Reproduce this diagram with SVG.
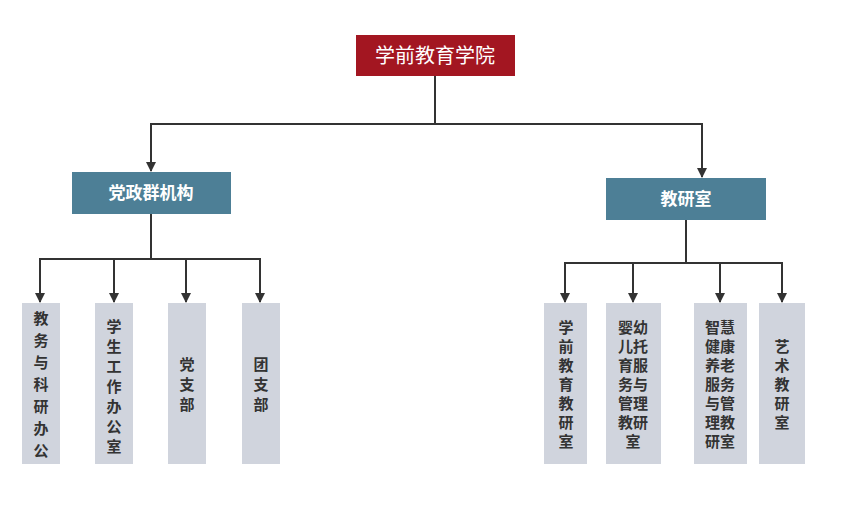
<svg xmlns="http://www.w3.org/2000/svg" width="857" height="512" viewBox="0 0 857 512">
<defs>
<style>
.lf{fill:#D0D4DD}
.lt{font-family:"Noto Sans CJK SC",sans-serif;font-size:15px;font-weight:bold;fill:#333;text-anchor:middle}
.wt{font-family:"Noto Sans CJK SC",sans-serif;fill:#fff;text-anchor:middle}
.c{fill:none;stroke:#333;stroke-width:2}
</style>
<marker id="a" viewBox="0 0 10 10" refX="9" refY="5" markerWidth="5" markerHeight="5" orient="auto"><path d="M0,0L10,5L0,10z" fill="#333"/></marker>
</defs>
<rect width="857" height="512" fill="#fff"/>
<g id="connectors">
<path class="c" d="M435,76V124H151V171" marker-end="url(#a)"/>
<path class="c" d="M435,124H702V177" marker-end="url(#a)"/>
<path class="c" d="M151,214V259H40V302" marker-end="url(#a)"/>
<path class="c" d="M114,259V302" marker-end="url(#a)"/>
<path class="c" d="M186,259V302" marker-end="url(#a)"/>
<path class="c" d="M151,259H260V302" marker-end="url(#a)"/>
<path class="c" d="M686,220V263H565V302" marker-end="url(#a)"/>
<path class="c" d="M633,263V302" marker-end="url(#a)"/>
<path class="c" d="M720,263V302" marker-end="url(#a)"/>
<path class="c" d="M686,263H782V302" marker-end="url(#a)"/>
</g>
<g id="root"><rect x="356" y="35" width="159" height="41" fill="#A31621"/><text class="wt" x="435" y="63" font-size="20">学前教育学院</text></g>
<g id="dangzheng"><rect x="72" y="172" width="159" height="42" fill="#4D7F96"/><text class="wt" x="151" y="199" font-size="17" font-weight="bold">党政群机构</text></g>
<g id="jiaoyan"><rect x="606" y="178" width="160" height="42" fill="#4D7F96"/><text class="wt" x="686" y="205" font-size="17" font-weight="bold">教研室</text></g>
<g id="n1"><rect class="lf" x="22" y="303" width="38" height="161"/><text class="lt" x="41"><tspan x="41" y="324">教</tspan><tspan x="41" y="346">务</tspan><tspan x="41" y="368">与</tspan><tspan x="41" y="390">科</tspan><tspan x="41" y="412">研</tspan><tspan x="41" y="434">办</tspan><tspan x="41" y="456">公</tspan></text><text class="lt" x="41" y="456" display="none"></text></g>
<g id="n2"><rect class="lf" x="95" y="303" width="38" height="161"/><text class="lt"><tspan x="114" y="332">学</tspan><tspan x="114" y="352">生</tspan><tspan x="114" y="372">工</tspan><tspan x="114" y="392">作</tspan><tspan x="114" y="412">办</tspan><tspan x="114" y="432">公</tspan><tspan x="114" y="452">室</tspan></text></g>
<g id="n3"><rect class="lf" x="168" y="303" width="38" height="161"/><text class="lt"><tspan x="187" y="370">党</tspan><tspan x="187" y="390">支</tspan><tspan x="187" y="410">部</tspan></text></g>
<g id="n4"><rect class="lf" x="242" y="303" width="38" height="161"/><text class="lt"><tspan x="261" y="370">团</tspan><tspan x="261" y="390">支</tspan><tspan x="261" y="410">部</tspan></text></g>
<g id="n5"><rect class="lf" x="544" y="303" width="43" height="161"/><text class="lt"><tspan x="566" y="333">学</tspan><tspan x="566" y="352">前</tspan><tspan x="566" y="371">教</tspan><tspan x="566" y="390">育</tspan><tspan x="566" y="409">教</tspan><tspan x="566" y="428">研</tspan><tspan x="566" y="447">室</tspan></text></g>
<g id="n6"><rect class="lf" x="606" y="303" width="55" height="161"/><text class="lt"><tspan x="633" y="333">婴幼</tspan><tspan x="633" y="352">儿托</tspan><tspan x="633" y="371">育服</tspan><tspan x="633" y="390">务与</tspan><tspan x="633" y="409">管理</tspan><tspan x="633" y="428">教研</tspan><tspan x="633" y="447">室</tspan></text></g>
<g id="n7"><rect class="lf" x="694" y="303" width="53" height="161"/><text class="lt"><tspan x="720" y="333">智慧</tspan><tspan x="720" y="352">健康</tspan><tspan x="720" y="371">养老</tspan><tspan x="720" y="390">服务</tspan><tspan x="720" y="409">与管</tspan><tspan x="720" y="428">理教</tspan><tspan x="720" y="447">研室</tspan></text></g>
<g id="n8"><rect class="lf" x="759" y="303" width="46" height="161"/><text class="lt"><tspan x="782" y="352">艺</tspan><tspan x="782" y="371">术</tspan><tspan x="782" y="390">教</tspan><tspan x="782" y="409">研</tspan><tspan x="782" y="428">室</tspan></text></g>
</svg>
